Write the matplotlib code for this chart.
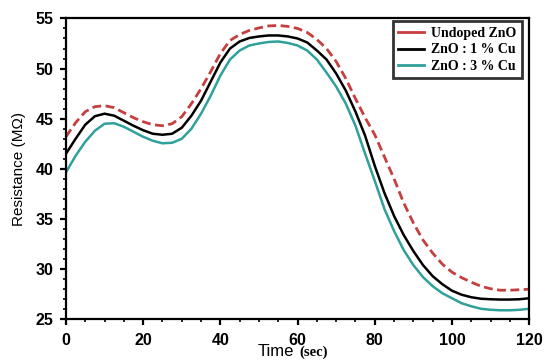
import numpy as np
import matplotlib
matplotlib.use("Agg")
import matplotlib.pyplot as plt
from matplotlib.lines import Line2D
from matplotlib.ticker import MultipleLocator

# time axis (sec)
time_s = [0, 2.5, 5, 7.5, 10, 12.5, 15, 17.5, 20, 22.5, 25, 27.5, 30, 32.5, 35, 37.5,
          40, 42.5, 45, 47.5, 50, 52.5, 55, 57.5, 60, 62.5, 65, 67.5, 70, 72.5, 75, 77.5,
          80, 82.5, 85, 87.5, 90, 92.5, 95, 97.5, 100, 102.5, 105, 107.5, 110, 112.5,
          115, 117.5, 120]

# resistance (MOhm)
undoped = [43.2, 44.6, 45.7, 46.2, 46.3, 46.1, 45.6, 45.1, 44.7, 44.4, 44.3, 44.5, 45.2,
           46.5, 48.0, 49.7, 51.5, 52.8, 53.4, 53.8, 54.05, 54.25, 54.3, 54.2, 54.0, 53.6,
           52.9, 52.0, 50.7, 49.0, 47.0, 45.1, 43.4, 41.2, 39.0, 36.6, 34.6, 32.9, 31.6,
           30.5, 29.7, 29.15, 28.7, 28.3, 28.05, 27.9, 27.9, 27.95, 28.0]
cu_1 = [41.5, 43.0, 44.4, 45.25, 45.5, 45.3, 44.8, 44.3, 43.85, 43.5, 43.4, 43.5, 44.1,
        45.3, 46.8, 48.7, 50.6, 52.0, 52.7, 53.05, 53.2, 53.3, 53.3, 53.2, 53.0, 52.6,
        51.8, 50.9, 49.5, 47.8, 45.7, 43.3, 40.3, 37.6, 35.3, 33.4, 31.8, 30.4, 29.3,
        28.5, 27.85, 27.45, 27.2, 27.05, 27.0, 26.97, 26.97, 27.0, 27.1]
cu_3 = [39.65, 41.3, 42.7, 43.8, 44.5, 44.55, 44.2, 43.7, 43.2, 42.8, 42.55, 42.6, 43.0,
        44.0, 45.5, 47.3, 49.3, 50.9, 51.8, 52.3, 52.5, 52.65, 52.7, 52.55, 52.3, 51.8,
        50.9, 49.6, 48.2, 46.5, 44.3, 41.5, 38.8, 36.0, 33.8, 31.9, 30.4, 29.2, 28.3,
        27.6, 27.1, 26.6, 26.3, 26.05, 25.95, 25.9, 25.9, 25.95, 26.05]

labels = ["Undoped ZnO", "ZnO : 1 % Cu", "ZnO : 3 % Cu"]
red = "#c63f3f"
teal = "#30a09a"

fig = plt.figure(figsize=(5.45, 3.61), dpi=100)
ax = fig.add_axes([0.121, 0.1155, 0.85, 0.8335])

ax.plot(time_s, undoped, color=red, lw=2.0, ls=(0, (3.2, 1.6)))
ax.plot(time_s, cu_1, color="black", lw=1.8)
ax.plot(time_s, cu_3, color=teal, lw=1.8)

ax.set_xlim(0, 120)
ax.set_ylim(25, 55)
ax.xaxis.set_major_locator(MultipleLocator(20))
ax.xaxis.set_minor_locator(MultipleLocator(5))
ax.yaxis.set_major_locator(MultipleLocator(5))
ax.yaxis.set_minor_locator(MultipleLocator(1))

for s in ax.spines.values():
    s.set_linewidth(1.6)
ax.tick_params(which="major", direction="out", length=4, width=1.6)
ax.tick_params(which="minor", direction="out", length=2.5, width=1.2)
ax.tick_params(axis="y", which="major", pad=5)
ax.tick_params(axis="x", which="major", pad=6)

for lab in ax.get_xticklabels() + ax.get_yticklabels():
    lab.set_fontfamily("Liberation Sans")
    lab.set_fontweight("bold")
    lab.set_fontsize(11.5)

ax.set_ylabel("Resistance (M\u03a9)", fontfamily="Liberation Sans", fontsize=11, labelpad=7)

# x label: sans "Time" + serif "(sec)" on one baseline
ax.text(0.493, -0.122, "Time", transform=ax.transAxes, ha="right", va="baseline",
        fontfamily="Liberation Sans", fontsize=12)
ax.text(0.503, -0.122, "(sec)", transform=ax.transAxes, ha="left", va="baseline",
        fontfamily="Liberation Serif", fontsize=10.5, fontweight="bold")

handles = [Line2D([], [], color=red, lw=2),
           Line2D([], [], color="black", lw=2),
           Line2D([], [], color=teal, lw=2)]
leg = ax.legend(handles, labels, loc="upper right", bbox_to_anchor=(0.985, 0.99),
                prop={"family": "Liberation Serif", "weight": "bold", "size": 10},
                frameon=True, fancybox=False, handlelength=1.9, handletextpad=0.5,
                borderpad=0.4, labelspacing=0.25, borderaxespad=0.0)
leg.get_frame().set_edgecolor("black")
leg.get_frame().set_linewidth(2.0)

fig.savefig("out.png", dpi=100)
